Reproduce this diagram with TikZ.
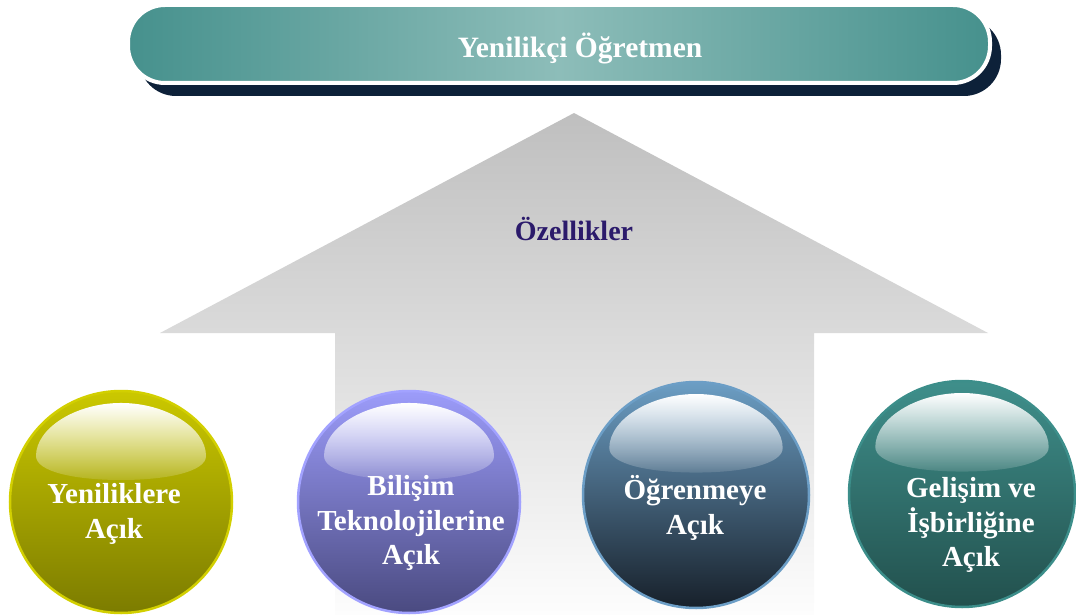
\documentclass[tikz,border=0pt]{standalone}
\usepackage{fontspec}
\setmainfont{Liberation Serif}
\usetikzlibrary{fadings}

\definecolor{bannerEdge}{HTML}{46918D}
\definecolor{bannerMid}{HTML}{8DBDB9}
\definecolor{bannerShadow}{HTML}{0D2139}
\definecolor{arrowTop}{HTML}{BFBFBF}
\definecolor{arrowBottom}{HTML}{FDFDFD}
\definecolor{titleInk}{HTML}{2B1A6B}
% sphere palettes: outline, top, bottom
\definecolor{oliveLine}{HTML}{D2CF00}\definecolor{oliveTop}{HTML}{CBC800}\definecolor{oliveBot}{HTML}{7C7C00}
\definecolor{violetLine}{HTML}{A2A2FF}\definecolor{violetTop}{HTML}{9C9CFA}\definecolor{violetBot}{HTML}{4A4A80}
\definecolor{steelLine}{HTML}{6C9EC6}\definecolor{steelTop}{HTML}{6C9EC4}\definecolor{steelBot}{HTML}{17202A}
\definecolor{tealLine}{HTML}{3C8E8A}\definecolor{tealTop}{HTML}{3F8F8B}\definecolor{tealBot}{HTML}{22504D}

\tikzfading[name=glossfade, top color=transparent!0, bottom color=transparent!88]

\tikzset{
  banner/.style={rounded corners=37, minimum width=862, minimum height=78, inner sep=0,
    left color=bannerEdge, right color=bannerEdge, middle color=bannerMid,
    draw=white, line width=4},
  bannershadow/.style={rounded corners=37, minimum width=862, minimum height=78, inner sep=0,
    fill=bannerShadow},
  bannertext/.style={text=white, font=\bfseries\fontsize{29.5}{34}\selectfont},
  ball/.style={circle, inner sep=0, minimum size=#1, line width=2.5},
  balltext/.style={align=center, text=white, font=\bfseries\fontsize{29}{34.5}\selectfont},
  gloss/.pic={
    \fill[white, path fading=glossfade]
      (-85,-46) .. controls (-85,-74) and (-45,-99) .. (0,-99)
      .. controls (45,-99) and (85,-74) .. (85,-46)
      .. controls (85,-30) and (45,-22) .. (0,-22)
      .. controls (-45,-22) and (-85,-30) .. (-85,-46) -- cycle;
  }
}

\begin{document}
\begin{tikzpicture}[x=1pt, y=-1pt]
  \useasboundingbox (0,0) rectangle (1076,615);

  % large upward arrow behind the spheres
  \path[top color=arrowTop, bottom color=arrowBottom]
    (574,113) -- (988,333) -- (814,333) -- (814,615) -- (335,615) -- (335,333) -- (160,333) -- cycle;
  \node[text=titleInk, font=\bfseries\fontsize{28}{34}\selectfont] (feat) at (574,229) {Özellikler};

  % title banner with its drop shadow
  \node[bannershadow] (bshadow) at (570,57) {};
  \node[banner] (title) at (559,44) {};
  \node[bannertext] (titletext) at (580,48) {Yenilikçi Öğretmen};

  % four glossy spheres
  \node[ball=222, draw=oliveLine, top color=oliveTop, bottom color=oliveBot] (s1) at (121,502) {};
  \pic at (s1.center) {gloss};
  \node[balltext] (t1) at (114,514) {Yeniliklere\\Açık};

  \node[ball=222, draw=violetLine, top color=violetTop, bottom color=violetBot] (s2) at (409,502) {};
  \pic at (s2.center) {gloss};
  \node[balltext] (t2) at (411,523) {Bilişim\\Teknolojilerine\\Açık};

  \node[ball=226, draw=steelLine, top color=steelTop, bottom color=steelBot] (s3) at (696,495) {};
  \pic[scale=1.02] at (s3.center) {gloss};
  \node[balltext] (t3) at (695,508) {Öğrenmeye\\Açık};

  \node[ball=226, draw=tealLine, top color=tealTop, bottom color=tealBot] (s4) at (962,494) {};
  \pic[scale=1.02] at (s4.center) {gloss};
  \node[balltext] (t4) at (971,525) {Gelişim ve\\İşbirliğine\\Açık};
\end{tikzpicture}
\end{document}
